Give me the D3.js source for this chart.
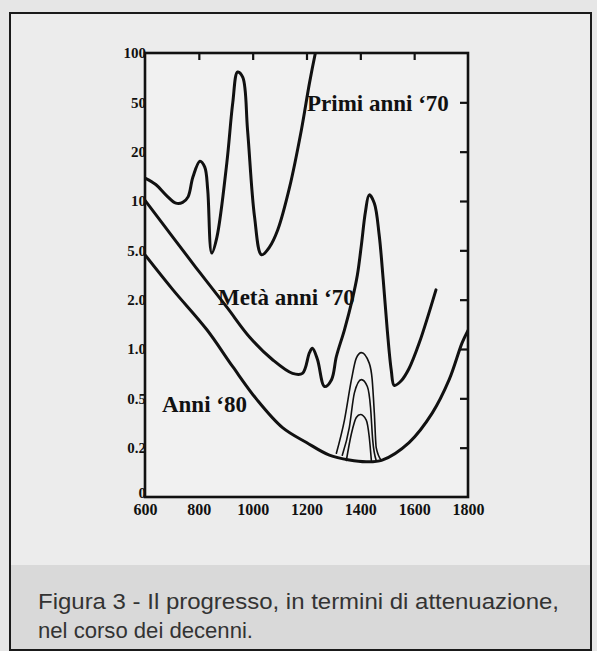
<!DOCTYPE html>
<html>
<head>
<meta charset="utf-8">
<script src="https://cdn.jsdelivr.net/npm/d3@7"></script>
<style>
  html, body { margin: 0; padding: 0; background: #e6e6e6; }
  svg { display: block; }
</style>
</head>
<body>
<div id="chart"></div>
<script>
// attenuation (dB/km) vs wavelength (nm)
const xTicks = [600, 800, 1000, 1200, 1400, 1600, 1800]
const yTicks = [100, 50, 20, 10, 5, 2, 1, 0.5, 0.2, 0.1]
const yTickLabels = ['100', '50', '20', '10', '5.0', '2.0', '1.0', '0.5', '0.2', '0']

const primi70 = [
  [600, 13.8], [640, 12.6], [680, 10.8], [715, 9.7], [740, 9.8], [760, 10.6], [778, 14], [804, 17.5],
  [822, 16.1], [833, 11.7], [848, 4.75], [867, 6.0], [904, 17.1], [926, 49.5], [944, 76.6],
  [963, 71.3], [981, 29.9], [1007, 8.0], [1033, 4.6], [1063, 5.25], [1093, 6.65],
  [1137, 12.1], [1181, 29.9], [1211, 65.5], [1233, 100]
]
const meta70 = [
  [600, 10.1], [704, 6.0], [804, 3.3], [904, 1.8],
  [989, 1.18], [1074, 0.86], [1148, 0.71], [1185, 0.71], [1211, 0.95], [1222, 1.01],
  [1241, 0.86], [1267, 0.59], [1293, 0.65], [1311, 0.9], [1341, 1.31], [1370, 2.0],
  [1389, 3.16], [1404, 5.4], [1419, 8.6], [1433, 10.9], [1452, 9.7], [1470, 6.2],
  [1485, 2.9], [1500, 1.31], [1515, 0.74], [1526, 0.6], [1552, 0.64], [1581, 0.76],
  [1619, 1.09], [1681, 2.4]
]
const anni80 = [
  [600, 4.6], [704, 2.4], [830, 1.31], [926, 0.78], [1015, 0.49], [1111, 0.29], [1200, 0.22],
  [1285, 0.18], [1359, 0.168], [1422, 0.164], [1481, 0.168], [1581, 0.22], [1667, 0.38],
  [1730, 0.65], [1778, 1.09], [1800, 1.3]
]
// OH absorption peaks on the '80 fibre
const ohHigh = [
  [1311, 0.185], [1341, 0.334], [1367, 0.65], [1385, 0.88], [1404, 0.95], [1433, 0.82],
  [1444, 0.65], [1452, 0.38], [1459, 0.2], [1478, 0.167]
]
const ohMid = [
  [1333, 0.18], [1359, 0.29], [1378, 0.54], [1404, 0.65], [1426, 0.59], [1438, 0.42],
  [1446, 0.23], [1459, 0.167]
]
const ohLow = [
  [1348, 0.167], [1367, 0.26], [1385, 0.35], [1400, 0.37], [1422, 0.334], [1433, 0.245],
  [1441, 0.167]
]

const width = 597
const height = 651
const plot = {left: 145, right: 468, top: 53, bottom: 497}

const svg = d3.select('#chart')
  .append('svg')
  .attr('width', width)
  .attr('height', height)

// page + figure box
svg.append('rect')
  .attr('x', 10).attr('y', 13).attr('width', 581).attr('height', 637)
  .attr('fill', '#ececec')
svg.append('rect')
  .attr('x', 11).attr('y', 565).attr('width', 579).attr('height', 84)
  .attr('fill', '#d9d9d9')
svg.append('rect')
  .attr('x', 10).attr('y', 13).attr('width', 581).attr('height', 637)
  .attr('fill', 'none').attr('stroke', '#1a1a1a').attr('stroke-width', 2)

const x = d3.scaleLinear()
  .domain([600, 1800])
  .range([plot.left, plot.right])

// the axis steps 1-2-5 at equal spacing, so interpolate piecewise in log space
const yLog = d3.scaleLinear()
  .domain(yTicks.map(Math.log10))
  .range(yTicks.map((d, i) => plot.top + i * (plot.bottom - plot.top) / (yTicks.length - 1)))
const y = v => yLog(Math.log10(v))

svg.append('rect')
  .attr('x', plot.left).attr('y', plot.top)
  .attr('width', plot.right - plot.left).attr('height', plot.bottom - plot.top)
  .attr('fill', '#f1f1f1')

const serif = '"Liberation Serif", "DejaVu Serif", serif'

// top ticks (inward)
svg.append('g')
  .attr('transform', `translate(0,${plot.top})`)
  .call(d3.axisBottom(x).tickValues(xTicks.slice(1, -1)).tickSize(7).tickFormat(''))
  .call(g => g.select('.domain').remove())
  .call(g => g.selectAll('line').attr('stroke', '#111').attr('stroke-width', 2.2))

// right ticks (inward)
svg.append('g')
  .attr('transform', `translate(${plot.right},0)`)
  .call(d3.axisLeft(yLog).tickValues(yTicks.slice(1, -1).map(Math.log10)).tickSize(8).tickFormat(''))
  .call(g => g.select('.domain').remove())
  .call(g => g.selectAll('line').attr('stroke', '#111').attr('stroke-width', 2.2))

// bottom labels
svg.append('g')
  .attr('transform', `translate(0,${plot.bottom})`)
  .call(d3.axisBottom(x).tickValues(xTicks).tickSize(0).tickPadding(6.5).tickFormat(d3.format('d')))
  .call(g => g.select('.domain').remove())
  .call(g => g.selectAll('text')
    .attr('font-family', serif).attr('font-weight', 'bold').attr('font-size', 16).attr('fill', '#111'))

// left labels
svg.append('g')
  .attr('transform', `translate(${plot.left},0)`)
  .call(d3.axisLeft(yLog).tickValues(yTicks.map(Math.log10)).tickSize(0).tickPadding(-1)
    .tickFormat((d, i) => yTickLabels[i]))
  .call(g => g.select('.domain').remove())
  .call(g => g.selectAll('text')
    .attr('font-family', serif).attr('font-weight', 'bold').attr('font-size', 15).attr('fill', '#111')
    .attr('dy', (d, i) => i === yTicks.length - 1 ? '0.05em' : '0.32em'))

svg.append('clipPath').attr('id', 'plot-clip')
  .append('rect')
  .attr('x', plot.left).attr('y', plot.top)
  .attr('width', plot.right - plot.left).attr('height', plot.bottom - plot.top)

const smooth = d3.line()
  .x(d => x(d[0]))
  .y(d => y(d[1]))
  .curve(d3.curveCatmullRom.alpha(0.5))

const tight = d3.line()
  .x(d => x(d[0]))
  .y(d => y(d[1]))
  .curve(d3.curveMonotoneX)

const curves = svg.append('g').attr('clip-path', 'url(#plot-clip)')

const series = [
  {data: primi70, w: 3, line: smooth},
  {data: meta70, w: 3, line: smooth},
  {data: anni80, w: 3, line: smooth},
  {data: ohHigh, w: 1.6, line: tight},
  {data: ohMid, w: 1.6, line: tight},
  {data: ohLow, w: 1.6, line: tight}
]

curves.selectAll('path')
  .data(series)
  .enter()
  .append('path')
  .attr('d', d => d.line(d.data))
  .attr('fill', 'none')
  .attr('stroke', '#111')
  .attr('stroke-width', d => d.w)
  .attr('stroke-linejoin', 'round')
  .attr('stroke-linecap', 'round')

// plot frame
svg.append('rect')
  .attr('x', plot.left).attr('y', plot.top)
  .attr('width', plot.right - plot.left).attr('height', plot.bottom - plot.top)
  .attr('fill', 'none').attr('stroke', '#111').attr('stroke-width', 2.6)

// curve labels
const labels = [
  {text: 'Primi anni ‘70', nm: 1202, v: 42.6},
  {text: 'Metà anni ‘70', nm: 871, v: 1.85},
  {text: 'Anni ‘80', nm: 663, v: 0.39}
]
svg.selectAll('text.curve-label')
  .data(labels)
  .enter()
  .append('text')
  .attr('class', 'curve-label')
  .attr('x', d => x(d.nm))
  .attr('y', d => y(d.v))
  .attr('font-family', serif)
  .attr('font-weight', 'bold')
  .attr('font-size', 23)
  .attr('fill', '#111')
  .text(d => d.text)

// caption
const caption = svg.append('g')
  .attr('font-family', '"Liberation Sans", Arial, sans-serif')
  .attr('font-size', 22)
  .attr('fill', '#333')
caption.append('text')
  .attr('x', 38).attr('y', 609)
  .attr('textLength', 521)
  .attr('lengthAdjust', 'spacingAndGlyphs')
  .text('Figura 3 - Il progresso, in termini di attenuazione,')
caption.append('text')
  .attr('x', 38).attr('y', 638)
  .attr('textLength', 215)
  .attr('lengthAdjust', 'spacingAndGlyphs')
  .text('nel corso dei decenni.')
</script>
</body>
</html>
